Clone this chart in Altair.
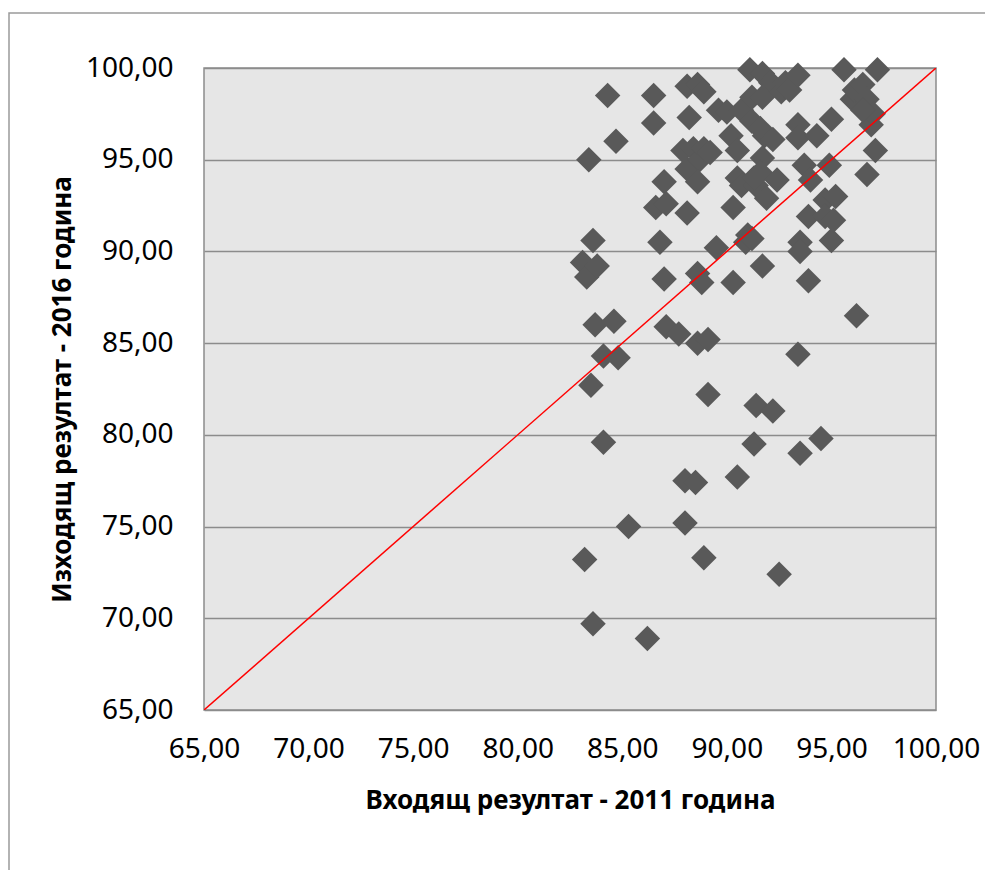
import altair as alt
import pandas as pd

# Входящ резултат (2011) and Изходящ резултат (2016)
x_2011 = [
    83.4, 84.3, 84.7, 83.1, 83.6, 83.3, 83.8, 83.7, 84.6, 84.1, 84.8, 83.5, 84.1, 85.3, 83.2, 83.6, 86.2,
    86.5, 86.5, 86.6, 86.8, 87.0, 87.1, 87.0, 87.1, 87.7, 88.1, 88.6, 88.9, 88.2, 88.1, 87.9, 88.1, 88.4,
    88.7, 88.6, 88.9, 89.2, 88.6, 88.8, 88.6, 89.1, 88.0, 88.5, 88.0, 88.9, 89.1, 89.5,
    89.6, 90.0, 90.2, 90.5, 90.3, 90.3, 90.5, 90.7, 90.7, 91.0, 90.9, 91.2, 91.2, 91.4, 91.3, 91.1, 91.2,
    91.7, 92.1, 91.7, 91.6, 91.8, 91.7, 91.6, 91.9, 91.7, 90.5, 91.4, 91.3, 92.2, 92.5, 92.4, 92.2, 92.6,
    92.8, 93.0, 93.4, 93.4, 93.4, 93.5, 93.5, 93.7, 93.9, 94.0, 93.9, 93.4, 93.5, 94.5, 94.3, 94.7, 94.7,
    94.9, 95.0, 95.0, 95.1, 95.2, 95.6, 96.0, 96.1, 96.5, 96.2, 96.7, 96.7, 96.9, 97.0, 97.2, 97.1, 96.5,
]
y_2016 = [
    95.0, 98.5, 96.0, 89.4, 90.6, 88.6, 89.2, 86.0, 86.2, 84.3, 84.2, 82.7, 79.6, 75.0, 73.2, 69.7, 68.9,
    98.5, 97.0, 92.4, 90.5, 93.8, 92.6, 88.5, 85.9, 85.5, 99.0, 99.1, 98.7, 97.3, 92.1, 95.5, 94.5, 95.6,
    95.0, 93.8, 95.6, 95.4, 88.8, 88.3, 85.0, 85.2, 77.5, 77.4, 75.2, 73.3, 82.2, 90.2,
    97.7, 97.6, 96.3, 95.5, 92.4, 88.3, 94.0, 93.6, 97.7, 90.9, 90.5, 90.7, 97.1, 93.6, 94.0, 99.9, 98.4,
    99.7, 99.2, 98.4, 96.7, 96.3, 95.1, 94.3, 92.9, 89.2, 77.7, 81.6, 79.5, 81.3, 72.4, 93.9, 96.1, 98.7,
    99.2, 98.8, 99.6, 96.9, 96.2, 90.5, 90.0, 94.7, 91.9, 93.9, 88.4, 84.4, 79.0, 79.8, 96.3, 92.8, 91.9,
    94.7, 97.2, 90.6, 91.7, 93.0, 99.9, 98.3, 98.8, 99.1, 86.5, 98.3, 94.2, 96.9, 97.5, 99.9, 95.5, 97.7,
]
line_x = [65, 100]
line_y = [65, 100]
ticks = [65, 70, 75, 80, 85, 90, 95, 100]

pts = pd.DataFrame({"x": x_2011, "y": y_2016})
diag = pd.DataFrame({"x": line_x, "y": line_y})
frame_df = pd.DataFrame({"k": [0]})

FONT = "Noto Sans"
label_expr = "replace(format(datum.value, '.2f'), '.', ',')"

xscale = alt.Scale(domain=[65, 100], nice=False, zero=False)
yscale = alt.Scale(domain=[65, 100], nice=False, zero=False)

points = alt.Chart(pts).mark_point(
    shape="diamond", filled=True, color="#595959", size=650, opacity=1
).encode(
    x=alt.X("x:Q", scale=xscale, axis=alt.Axis(
        values=ticks, labelExpr=label_expr, title="Входящ резултат - 2011 година",
        grid=False, domain=False, ticks=False, labelFontSize=28, labelPadding=25,
        labelFont=FONT, labelColor="black", titleFont=FONT, titleFontSize=26,
        titleFontWeight="bold", titleColor="black", titleX=366, titleY=90,
        titleBaseline="middle", labelFlush=False)),
    y=alt.Y("y:Q", scale=yscale, axis=alt.Axis(
        values=ticks, labelExpr=label_expr, title="Изходящ резултат - 2016 година",
        grid=True, gridColor="#8c8c8c", gridWidth=1.5, domain=False, ticks=False,
        labelFontSize=28, labelPadding=31, labelFont=FONT, labelColor="black",
        titleFont=FONT, titleFontSize=26, titleFontWeight="bold", titleColor="black",
        titleX=-142, titleY=321, titleBaseline="middle", titleAngle=-90, labelFlush=False)),
)

line = alt.Chart(diag).mark_line(color="#ff0000", strokeWidth=1.5, clip=True).encode(
    x=alt.X("x:Q", scale=xscale), y=alt.Y("y:Q", scale=yscale)
)

frame = alt.Chart(frame_df).mark_rect(
    fill="transparent", stroke="#9a9a9a", strokeWidth=1.5
).encode(
    x=alt.value(-195), x2=alt.value(1100), y=alt.value(-55), y2=alt.value(1100)
)

chart = alt.layer(points, line, frame).properties(
    width=732, height=642,
    autosize=alt.AutoSizeParams(type="none"),
    padding={"left": 196, "top": 60, "right": 49, "bottom": 160},
    background="white",
).configure_view(stroke="#8c8c8c", strokeWidth=1.5, fill="#e6e6e6")

chart.save("out.html", embed_options={"renderer": "svg", "actions": False})
